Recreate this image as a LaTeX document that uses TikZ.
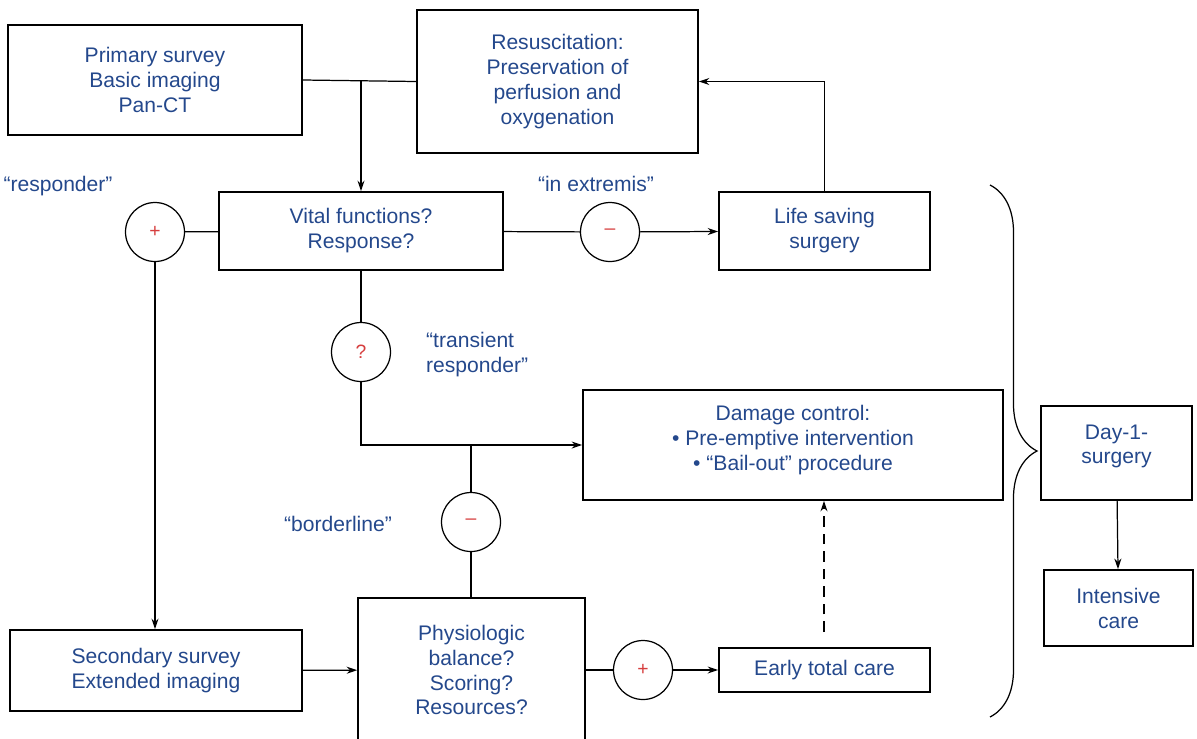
\documentclass[tikz,border=0pt]{standalone}
\usepackage{fontspec}
\setmainfont{Liberation Sans}
\usetikzlibrary{arrows.meta,decorations.pathreplacing}
\definecolor{inkblue}{RGB}{36,72,140}
\definecolor{signred}{RGB}{214,62,62}

\begin{document}
\begin{tikzpicture}[x=0.02cm,y=-0.02cm,
                    stage/.style={draw,line width=1pt,align=center,inner sep=0pt,text=inkblue,
                                  font=\fontsize{12}{14.2}\selectfont},
                    gate/.style={draw,circle,line width=0.7pt,minimum size=1.18cm,inner sep=0pt,
                                 text=signred,font=\fontsize{11}{13}\selectfont},
                    remark/.style={text=inkblue,font=\fontsize{12}{14.2}\selectfont},
                    link/.style={line width=0.7pt},
                    flow/.style={link,-{Stealth[length=6pt,width=4pt]}}]
      \clip (0,0) rectangle (1197,738);

      \node[stage,minimum width=5.88cm,minimum height=2.2cm] (prim) at (155,80)
        {Primary survey\\Basic imaging\\Pan-CT};
      \node[stage,minimum width=5.62cm,minimum height=2.86cm] (resus) at (557.5,81.5)
        {Resuscitation:\\Preservation of\\perfusion and\\oxygenation};
      \node[stage,minimum width=5.68cm,minimum height=1.56cm] (vital) at (361,231)
        {Vital functions?\\Response?};
      \node[stage,minimum width=4.22cm,minimum height=1.56cm] (life) at (824.5,231)
        {Life saving\\surgery};
      \node[stage,minimum width=8.4cm,minimum height=2.2cm] (damage) at (793,445)
        {Damage control:\\\textbullet{} Pre-emptive intervention\\\textbullet{} “Bail-out” procedure\rule[-8pt]{0pt}{8pt}};
      \node[stage,minimum width=5.84cm,minimum height=1.62cm] (second) at (156,670.5)
        {Secondary survey\\Extended imaging};
      \node[stage,minimum width=4.54cm,minimum height=2.88cm] (physio) at (471.5,670)
        {Physiologic\\balance?\\Scoring?\\Resources?};
      \node[stage,minimum width=4.22cm,minimum height=0.88cm] (early) at (824.5,670)
        {Early total care};
      \node[stage,minimum width=3.02cm,minimum height=1.88cm] (day1) at (1116.5,453)
        {Day-1-\\surgery\rule[-10pt]{0pt}{10pt}};
      \node[stage,minimum width=2.98cm,minimum height=1.52cm] (icu) at (1118.5,608)
        {Intensive\\care};

      \foreach \name/\x/\y/\sym in {plusA/155/232/+,minusA/610/232/–,query/361/352/?,
                                    minusB/471/522/–,plusB/643/670/+} {
        \node[gate] (\name) at (\x,\y) {\sym};
      }

      \node[remark] (qresp) at (58,186) {“responder”};
      \node[remark] (qextr) at (596,184) {“in extremis”};
      \node[remark,align=left,anchor=west] (qtrans) at (420,355) {“transient\\responder”};
      \node[remark] (qborder) at (338,524) {“borderline”};

      \coordinate (split) at (361,80.7);
      \coordinate (merge) at (471,445);
      \coordinate (hint) at (824,632);

      \draw[link] (prim.east) -- (resus.west);
      \draw[flow] (split) -- (vital.north);
      \draw[link] (plusA) -- (vital);
      \draw[flow] (plusA.south) -- (plusA.south |- second.north);
      \draw[link] (vital) -- (minusA);
      \draw[flow] (minusA) -- (life);
      \draw[flow] (life.north) |- (resus.east);
      \draw[link] (vital.south) -- (query);
      \draw[flow] (query.south) |- (damage.west);
      \draw[link] (merge) -- (minusB);
      \draw[link] (minusB) -- (minusB |- physio.north);
      \draw[flow] (second) -- (physio);
      \draw[link] (physio) -- (plusB);
      \draw[flow] (plusB) -- (early);
      \draw[flow,dash pattern=on 6pt off 4pt] (hint) -- (hint |- damage.south);
      \draw[flow] (day1) -- (icu);

      \draw[link,decorate,decoration={brace,amplitude=0.94cm}] (990,185) -- (990,717);
    \end{tikzpicture}
\end{document}
